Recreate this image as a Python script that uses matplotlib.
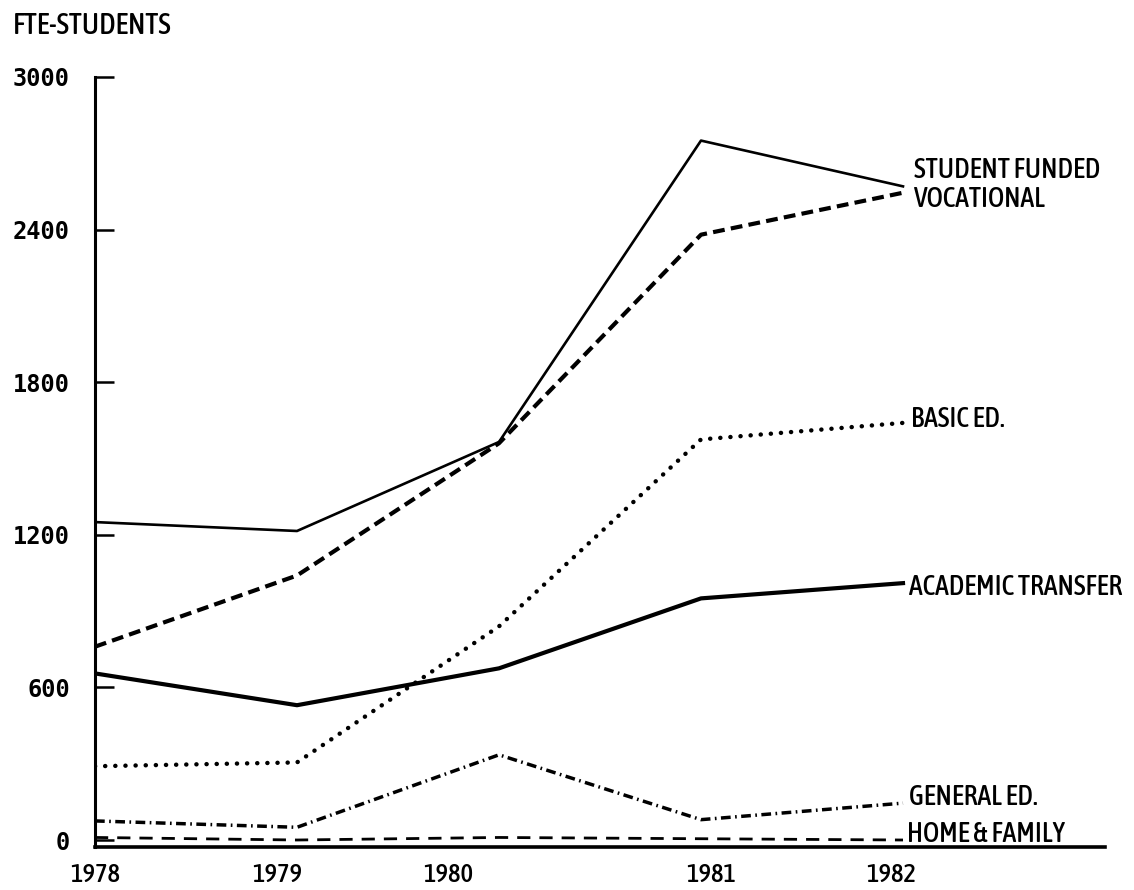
import matplotlib
matplotlib.use("Agg")
import matplotlib.pyplot as plt
from matplotlib import font_manager as fm

# ---- data ----
years = [1978, 1979, 1980, 1981, 1982]
year_labels = ["1978", "1979", "1980", "1981", "1982"]
student_funded = [1250, 1215, 1565, 2750, 2570]
vocational = [760, 1040, 1560, 2380, 2545]
basic_ed = [290, 305, 840, 1575, 1640]
academic_transfer = [655, 530, 675, 950, 1010]
general_ed = [75, 50, 335, 80, 145]
home_family = [10, 0, 10, 5, 0]
y_ticks = [0, 600, 1200, 1800, 2400, 3000]

# ---- fonts: prefer a narrow/condensed face ----
def narrow_font():
    cands = []
    for f in fm.fontManager.ttflist:
        n = f.name.lower()
        st = str(f.stretch).lower()
        if "narrow" in n or "condensed" in n or st in ("condensed", "semi-condensed", "semicondensed"):
            w = f.weight if isinstance(f.weight, int) else (700 if "bold" in str(f.weight) else 400)
            cands.append((abs(w - 550), f.style != "normal", f.fname))
    if cands:
        cands.sort()
        return fm.FontProperties(fname=cands[0][2])
    for fam in ["Roboto", "Liberation Sans", "DejaVu Sans"]:
        try:
            p = fm.findfont(fm.FontProperties(family=fam, weight="medium"), fallback_to_default=False)
            return fm.FontProperties(fname=p)
        except Exception:
            pass
    return fm.FontProperties(family="DejaVu Sans")

NF = narrow_font()
plt.rcParams["lines.scale_dashes"] = False

W, H = 1134, 890
fig = plt.figure(figsize=(W / 100, H / 100), dpi=100)
renderer = fig.canvas.get_renderer()

def fit_size(text, target_px, base=20.0):
    t = fig.text(0, 0, text, fontproperties=NF, fontsize=base)
    w = t.get_window_extent(renderer).width
    t.remove()
    return base * target_px / w

ax = fig.add_axes([95 / W, 43 / H, 1010 / W, (847 - 77) / H])

ax.plot(years, student_funded, color="black", lw=1.9)
ax.plot(years, vocational, color="black", lw=3.0, linestyle=(0, (8.5, 4.5)))
ax.plot(years, basic_ed, color="black", lw=3.2, linestyle=(0, (0.1, 7.2)),
        dash_capstyle="round")
ax.plot(years, academic_transfer, color="black", lw=3.0)
ax.plot(years, general_ed, color="black", lw=2.5,
        linestyle=(0, (7, 3.2, 1.2, 3.2)))
ax.plot(years, home_family, color="black", lw=2.0, linestyle=(0, (9.5, 6.5)))

ax.set_xlim(1978, 1983)
ax.set_ylim(-27.5, 3000)

for s in ["top", "right"]:
    ax.spines[s].set_visible(False)
ax.spines["left"].set_linewidth(2.2)
ax.spines["bottom"].set_linewidth(2.6)

ax.set_yticks(y_ticks)
ax.set_yticklabels([str(v) for v in y_ticks], fontfamily="DejaVu Sans Mono",
                   fontweight="bold", fontsize=17)
ax.tick_params(axis="y", direction="in", length=14, width=1.8, pad=18)

# typewritten year labels sit slightly off the data columns
label_pos = [1978.0, 1978.90, 1979.75, 1981.05, 1981.94]
ax.set_xticks(label_pos)
year_size = fit_size("1978", 50)
ax.set_xticklabels(year_labels, fontproperties=NF, fontsize=year_size)
ax.tick_params(axis="x", length=0, pad=11)

fig.text(13 / W, 1 - 25 / H, "FTE-STUDENTS", fontproperties=NF,
         fontsize=fit_size("FTE-STUDENTS", 158), va="center", ha="left")

lab_size = fit_size("STUDENT FUNDED", 186)
lab_kw = dict(textcoords="offset points", fontproperties=NF, fontsize=lab_size,
              ha="left", va="center")
px = 0.72
ax.annotate("STUDENT FUNDED", (years[-1], student_funded[-1]),
            xytext=(11 * px, 16 * px), **lab_kw)
ax.annotate("VOCATIONAL", (years[-1], vocational[-1]),
            xytext=(11 * px, -7 * px), **lab_kw)
ax.annotate("BASIC ED.", (years[-1], basic_ed[-1]),
            xytext=(8 * px, 3 * px), **lab_kw)
ax.annotate("ACADEMIC TRANSFER", (years[-1], academic_transfer[-1]),
            xytext=(6 * px, -4 * px), **lab_kw)
ax.annotate("GENERAL ED.", (years[-1], general_ed[-1]),
            xytext=(6 * px, 6 * px), **lab_kw)
ax.annotate("HOME & FAMILY", (years[-1], home_family[-1]),
            xytext=(4 * px, 6 * px), **lab_kw)

fig.savefig("out.png", dpi=100)
